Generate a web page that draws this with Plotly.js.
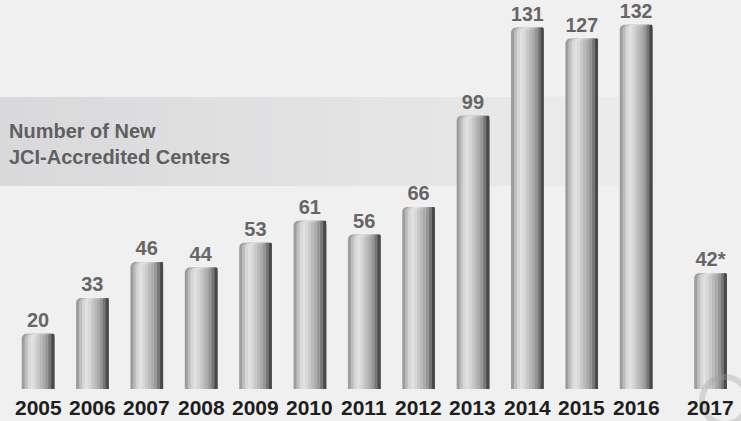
<!DOCTYPE html>
<html>
<head>
<meta charset="utf-8">
<script src="https://cdn.plot.ly/plotly-3.0.1.min.js"></script>
<style>
  html, body { margin: 0; padding: 0; background: #f0f0f0; }
  #chart { width: 741px; height: 421px; }
</style>
</head>
<body>
<div id="chart"></div>
<script>
// ---- Data ----
const years = ["2005","2006","2007","2008","2009","2010","2011","2012","2013","2014","2015","2016","2017"];
const centers = [20, 33, 46, 44, 53, 61, 56, 66, 99, 131, 127, 132, 42];
const valueLabels = ["20","33","46","44","53","61","56","66","99","131","127","132","42*"];
const bandTitle = "Number of New<br>JCI-Accredited Centers";

// ---- Style ----
const FONT = "Liberation Sans, Arial, sans-serif";
const BAR_W = 0.60;
const NSTRIPE = 11;
const LAST_SHIFT = 0.37; // 2017 sits a bit further right
const profile = [[0,130],[0.06,165],[0.15,195],[0.28,228],[0.38,220],[0.5,200],[0.6,185],[0.7,168],[0.8,145],[0.88,112],[0.95,75],[1,50]];
function grayAt(t){
  for (let i=1;i<profile.length;i++){
    if (t<=profile[i][0]){
      const a=profile[i-1], b=profile[i];
      const f=(t-a[0])/(b[0]-a[0]);
      const g=Math.round(a[1]+(b[1]-a[1])*f);
      return `rgb(${g},${g},${g})`;
    }
  }
  return "rgb(50,50,50)";
}

const traces = [];
const groups = [
  {idx: years.map((_,i)=>i).slice(0, years.length-1), shift: 0},
  {idx: [years.length-1], shift: LAST_SHIFT}
];
const sw = BAR_W / NSTRIPE;
groups.forEach(g => {
  const gx = g.idx.map(i=>years[i]);
  const gy = g.idx.map(i=>centers[i]);
  for (let s=0;s<NSTRIPE;s++){
    // each stripe runs from its start to the right edge of the bar, so no seams
    traces.push({
      type:"bar", x: gx, y: gy,
      width: BAR_W - s*sw, offset: -BAR_W/2 + s*sw + g.shift,
      marker:{color: grayAt((s+0.5)/NSTRIPE), line:{width:0}, cornerradius: 5},
      hoverinfo:"skip", showlegend:false
    });
  }
  traces.push({
    type:"bar", x: gx, y: gy,
    width: BAR_W, offset: -BAR_W/2 + g.shift,
    marker:{color:"rgba(0,0,0,0)", line:{width:0}},
    text: g.idx.map(i=>valueLabels[i]),
    textposition:"outside", cliponaxis:false,
    textfont:{family:FONT, size:20, weight:"bold", color:"#666666"},
    showlegend:false, hoverinfo:"x+y"
  });
});

// band gradient
const shapes = [];
const NB = 24, bandX1 = 653/741;
for (let i=0;i<NB;i++){
  const t=i/(NB-1);
  const r=Math.round(217+(236-217)*t), gg=Math.round(217+(236-217)*t), b=Math.round(219+(236-219)*t);
  shapes.push({type:"rect", xref:"paper", yref:"paper", layer:"below",
    x0: bandX1*i/NB, x1: bandX1*(i+1)/NB + 0.002, y0: 0.5219, y1: 0.7506,
    fillcolor:`rgb(${r},${gg},${b})`, line:{width:0}});
}
// faint watermark ring, bottom right
shapes.push({type:"circle", xref:"paper", yref:"paper", layer:"above",
  x0: 702/741, x1: 748/741, y0: (389-424)/389, y1: (389-377)/389,
  line:{color:"rgba(160,160,160,0.35)", width:6}, fillcolor:"rgba(0,0,0,0)"});

// year labels under the bars (category index positions)
const annotations = years.map((yr,i)=>({
  x: i, y: 0, xref:"x", yref:"paper", yanchor:"top", yshift:-5,
  xshift: i===years.length-1 ? LAST_SHIFT*54.4 : 0,
  text: yr, showarrow:false,
  font:{family:FONT, size:21, weight:"bold", color:"#1e1e1e"}
}));
annotations.push({
  x: 7/741, y: 0.631, xref:"paper", yref:"paper", xanchor:"left", yanchor:"middle",
  align:"left", text: bandTitle, showarrow:false,
  font:{family:FONT, size:20, weight:"bold", color:"#606060"}
});

const layout = {
  width:741, height:421,
  margin:{l:0, r:0, t:0, b:32, pad:0},
  paper_bgcolor:"#f0f0f0", plot_bgcolor:"rgba(0,0,0,0)",
  barmode:"overlay",
  xaxis:{type:"category", categoryorder:"array", categoryarray: years, range:[-0.699, 12.93], showticklabels:false, showgrid:false, zeroline:false, showline:false, ticks:""},
  yaxis:{range:[0,141], visible:false, showgrid:false, zeroline:false},
  shapes: shapes,
  annotations: annotations,
  showlegend:false
};

Plotly.newPlot("chart", traces, layout, {displayModeBar:false, staticPlot:true});
</script>
</body>
</html>
